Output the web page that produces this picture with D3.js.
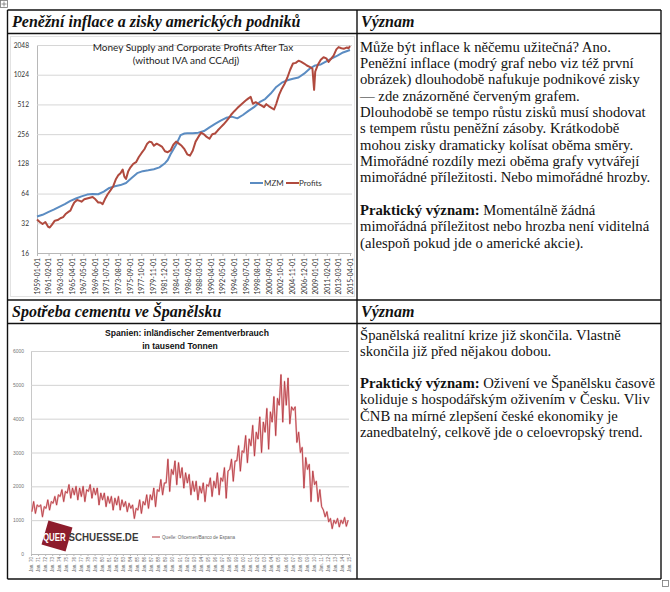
<!DOCTYPE html>
<html><head><meta charset="utf-8">
<script src="https://cdn.jsdelivr.net/npm/d3@7"></script>
<style>body{margin:0;background:#fff}svg{display:block}</style>
</head><body><svg id="c" width="670" height="592"></svg>
<script>
// ---------------- DATA ----------------
// Chart 1: MZM money supply (index, log2 axis)
const mzmYears = [1959,1960,1961,1962,1963,1964,1965,1966,1967,1968,1969,1970,1971,1972,1973,1974,1975,1976,1977,1978,1979,1980,1981,1982,1982.5,1983,1984,1984.8,1985.5,1986,1987,1988,1989,1990,1991,1992,1993,1994,1995,1996,1997,1998,1999,2000,2001,2002,2003,2004,2005,2006,2007,2008,2009,2010,2011,2012,2013,2014,2015.25];
const mzmValues = [37.5,39,41.5,44,47,50,54,57,60,62.5,63.5,63,67,73,76,78,82,92,103,108,110,113,118,130,140,160,200,250,260,262,262,265,275,300,325,350,375,385,370,400,440,480,540,580,660,770,850,900,930,960,1050,1180,1270,1300,1400,1500,1600,1720,1820];
// Chart 1: Corporate profits after tax
const profitYears = [1959,1959.5,1960,1960.5,1961,1961.3,1961.7,1962.2,1962.7,1963.2,1963.7,1964.2,1964.7,1965,1965.3,1965.7,1966.2,1966.7,1967,1967.5,1968,1968.5,1969,1969.5,1970,1970.4,1970.8,1971.2,1971.7,1972.2,1972.7,1973.2,1973.6,1974,1974.4,1974.7,1975,1975.4,1975.8,1976.3,1976.8,1977.3,1977.8,1978.3,1978.8,1979.2,1979.6,1980,1980.5,1981,1981.5,1982,1982.5,1983,1983.5,1984,1984.5,1985,1985.5,1986,1986.5,1987,1987.5,1988,1988.5,1989,1989.5,1990,1990.5,1991,1991.5,1992,1992.5,1993,1993.5,1994,1994.5,1995,1995.5,1996,1996.5,1997,1997.4,1997.8,1998.3,1998.8,1999.3,1999.8,2000.2,2000.7,2001.2,2001.6,2002,2002.5,2003,2003.5,2004,2004.5,2005,2005.5,2006,2006.5,2007,2007.5,2008,2008.5,2008.8,2009,2009.5,2010,2010.5,2011,2011.4,2011.9,2012.3,2012.8,2013.2,2013.7,2014.2,2014.7,2015,2015.25];
const profitValues = [35,33,31.5,33,29.5,29,31,34,34.5,36,37,40,42,43,47,52,55,54,53,56,57,58,59,56,52,52,50,56,63,69,76,90,98,103,112,95,90,108,118,128,133,150,165,180,205,215,212,195,205,198,190,172,168,175,200,215,205,195,180,160,155,175,215,240,265,255,240,230,255,260,280,300,320,345,375,410,440,470,500,530,560,590,610,520,540,520,500,480,515,490,470,455,520,640,740,830,960,1150,1330,1350,1420,1380,1330,1270,1230,1180,720,1100,1300,1450,1540,1500,1380,1500,1600,1850,1950,1900,1880,1930,1900,2000];
const chart1YTicks = [16,32,64,128,256,512,1024,2048];
const chart1XLabels = ["1959-01-01","1961-02-01","1963-03-01","1965-04-01","1967-05-01","1969-06-01","1971-07-01","1973-08-01","1975-09-01","1977-10-01","1979-11-01","1981-12-01","1984-01-01","1986-02-01","1988-03-01","1990-04-01","1992-05-01","1994-06-01","1996-07-01","1998-08-01","2000-09-01","2002-10-01","2004-11-01","2006-12-01","2009-01-01","2011-02-01","2013-03-01","2015-04-01"];
const chart1Series = ["MZM","Profits"];

// Chart 2: Spain cement consumption (thousand tonnes), 4 readings per year from 1970
const cementStartYear = 1970;
const cementValues = [
1250,1550,1200,1450, 1400,1450,1100,1400, 1350,1600,1300,1550, 1500,1700,1450,1750, 1700,1900,1550,1850,
1800,2050,1650,1950, 1750,2000,1600,1950, 1700,2000,1550,1900, 1850,2050,1650,1950, 1750,1950,1450,1800,
1600,1800,1400,1700, 1500,1700,1300,1650, 1450,1700,1300,1600, 1400,1550,1250,1500, 1350,1450,1050,1350,
1300,1600,1200,1550, 1450,1750,1350,1750, 1600,1950,1400,1900, 1850,2200,1750,2100, 2100,2800,1850,2500,
2350,2750,2050,2700, 2250,2550,1950,2400, 2100,2350,1750,2150, 1850,2150,1600,2000, 1800,2100,1550,2050,
2000,2250,1700,2150, 1950,2400,1750,2250, 2150,2550,1650,2450, 2500,2800,2150,2750, 2750,3200,2450,3050,
3000,3500,2700,3400, 3200,3800,2900,3600, 3400,4050,3000,3900, 3600,4300,3100,4200, 3900,4650,3500,4600,
4400,5300,3900,5100, 4400,5200,3850,4350, 4250,4350,3300,3600, 3000,3150,1950,2850, 2500,2650,1550,2450,
2050,2150,1550,1900, 1400,1300,1100,1250, 950,1050,750,1000, 900,1050,800,1000, 900,1080,820,1000];
const chart2YTicks = [0,1000,2000,3000,4000,5000,6000];
const chart2XLabels = ["70","71","72","73","74","75","76","77","78","79","80","81","82","83","84","85","86","87","88","89","90","91","92","93","94","95","96","97","98","99","00","01","02","03","04","05","06","07","08","09","10","11","12","13","14","15"];

// Text
const header1Left = "Peněžní inflace a zisky amerických podniků";
const header2Left = "Spotřeba cementu ve Španělsku";
const headerRight = "Význam";
const text1Lines = [
"Může být inflace k něčemu užitečná? Ano.",
"Peněžní inflace (modrý graf nebo viz též první",
"obrázek) dlouhodobě nafukuje podnikové zisky",
"— zde znázorněné červeným grafem.",
"Dlouhodobě se tempo růstu zisků musí shodovat",
"s tempem růstu peněžní zásoby. Krátkodobě",
"mohou zisky dramaticky kolísat oběma směry.",
"Mimořádné rozdíly mezi oběma grafy vytvářejí",
"mimořádné příležitosti. Nebo mimořádné hrozby.",
"",
"Praktický význam: Momentálně žádná",
"mimořádná příležitost nebo hrozba není viditelná",
"(alespoň pokud jde o americké akcie)."];
const text2Lines = [
"Španělská realitní krize již skončila. Vlastně",
"skončila již před nějakou dobou.",
"",
"Praktický význam: Oživení ve Španělsku časově",
"koliduje s hospodářským oživením v Česku. Vliv",
"ČNB na mírné zlepšení české ekonomiky je",
"zanedbatelný, celkově jde o celoevropský trend."];

// ---------------- DRAWING ----------------
const svg = d3.select("#c");
const serif = "'Liberation Serif','Times New Roman',serif";
const gill = "Lato, 'Open Sans', sans-serif";
const sans = "'Liberation Sans', Arial, sans-serif";
svg.append("rect").attr("width",670).attr("height",592).attr("fill","#fff");

// ---- Chart 1 ----
const c1 = svg.append("g");
c1.append("rect").attr("x",10.5).attr("y",36.5).attr("width",344).attr("height",260).attr("fill","#fff").attr("stroke","#e2e2e2");
const x1 = d3.scaleLinear().domain([1959, 2015.25]).range([37, 350]);
const y1 = d3.scaleLog().base(2).domain([16, 2048]).range([253, 45]);
const dateNum = s => { const p = s.split("-"); return +p[0] + (+p[1]-1)/12; };

const ya1 = c1.append("g").attr("transform","translate(37,0)")
  .call(d3.axisLeft(y1).tickValues(chart1YTicks).tickFormat(d3.format("d")).tickSizeInner(-315).tickSizeOuter(0).tickPadding(8));
ya1.select(".domain").attr("stroke","#b8b8b8");
ya1.selectAll(".tick line").attr("stroke","#d6d6d6");
ya1.selectAll(".tick text").attr("font-family",gill).attr("font-size",6.6).attr("fill","#333");

const xa1 = c1.append("g").attr("transform","translate(0,253)")
  .call(d3.axisBottom(x1).tickValues(chart1XLabels.map(dateNum)).tickFormat((d,i)=>chart1XLabels[i]).tickSizeInner(3).tickSizeOuter(0));
xa1.select(".domain").attr("stroke","#b8b8b8");
xa1.selectAll(".tick line").attr("stroke","#b8b8b8");
xa1.selectAll(".tick text").attr("transform","rotate(-90)").attr("text-anchor","end")
  .attr("x",-5).attr("y",0).attr("dy","0.35em")
  .attr("font-family",gill).attr("font-size",6.8).attr("fill","#333");

const line1 = d3.line().x(d=>x1(d[0])).y(d=>y1(d[1]));
const colors1 = ["#5b8cc2","#b04a3e"];
c1.append("path").datum(d3.zip(mzmYears,mzmValues)).attr("d",line1).attr("fill","none").attr("stroke",colors1[0]).attr("stroke-width",2).attr("stroke-linejoin","round");
c1.append("path").datum(d3.zip(profitYears,profitValues)).attr("d",line1).attr("fill","none").attr("stroke",colors1[1]).attr("stroke-width",2).attr("stroke-linejoin","round");

c1.append("text").attr("x",193).attr("y",51).attr("text-anchor","middle").attr("font-family",gill).attr("font-size",10).attr("fill","#222").text("Money Supply and Corporate Profits After Tax");
c1.append("text").attr("x",186).attr("y",64).attr("text-anchor","middle").attr("font-family",gill).attr("font-size",10).attr("fill","#222").text("(without IVA and CCAdj)");

// legend
const leg1 = [{x:250,tx:264},{x:286,tx:299}];
chart1Series.forEach((s,i)=>{
  c1.append("line").attr("x1",leg1[i].x).attr("x2",leg1[i].x+13).attr("y1",183).attr("y2",183).attr("stroke",colors1[i]).attr("stroke-width",2);
  c1.append("text").attr("x",leg1[i].tx).attr("y",186).attr("font-family",gill).attr("font-size",8).attr("fill","#333").text(s);
});

// ---- Chart 2 ----
const c2 = svg.append("g");
const x2 = d3.scaleLinear().domain([1970, 2015]).range([31, 349]);
const y2 = d3.scaleLinear().domain([0, 6000]).range([554, 351]);
const ya2 = c2.append("g").attr("transform","translate(31,0)")
  .call(d3.axisLeft(y2).tickValues(chart2YTicks).tickFormat(d3.format("d")).tickSizeInner(-318).tickSizeOuter(0).tickPadding(7));
ya2.select(".domain").attr("stroke","#c8c8c8");
ya2.selectAll(".tick line").attr("stroke","#d2d2d2");
ya2.selectAll(".tick text").attr("font-family",sans).attr("font-size",5).attr("fill","#777");
const xa2 = c2.append("g").attr("transform","translate(0,554)")
  .call(d3.axisBottom(x2).tickValues(chart2XLabels.map((d,i)=>1970+i)).tickFormat((d,i)=>"Jan. "+chart2XLabels[i]).tickSizeInner(2).tickSizeOuter(0));
xa2.select(".domain").attr("stroke","#b8b8b8");
xa2.selectAll(".tick line").attr("stroke","#b8b8b8");
xa2.selectAll(".tick text").attr("transform","rotate(-90)").attr("text-anchor","end")
  .attr("x",-3).attr("y",0).attr("dy","0.35em")
  .attr("font-family",sans).attr("font-size",4.6).attr("fill","#666");

const cementData = cementValues.map((v,i)=>[cementStartYear + i/4 + 0.125, v]);
const line2 = d3.line().x(d=>x2(d[0])).y(d=>y2(d[1]));
c2.append("path").datum(cementData).attr("d",line2).attr("fill","none").attr("stroke","#ecb4b6").attr("stroke-width",1.8).attr("stroke-linejoin","round");
c2.append("path").datum(cementData).attr("d",line2).attr("fill","none").attr("stroke","#b3343c").attr("stroke-width",0.8).attr("stroke-linejoin","round");

c2.append("text").attr("x",187).attr("y",336).attr("text-anchor","middle").attr("font-family",sans).attr("font-weight","bold").attr("font-size",8.6).attr("fill","#111").text("Spanien: inländischer Zementverbrauch");
c2.append("text").attr("x",180).attr("y",349).attr("text-anchor","middle").attr("font-family",sans).attr("font-weight","bold").attr("font-size",8.6).attr("fill","#111").text("in tausend Tonnen");

// logo
c2.append("rect").attr("x",-12.5).attr("y",-12.5).attr("width",25).attr("height",25).attr("fill","#8d1c2c")
  .attr("transform","translate(57,536) rotate(16)");
c2.append("text").attr("transform","translate(43,541) scale(0.75,1)").attr("font-family",sans).attr("font-weight","bold").attr("font-size",10.5).attr("fill","#fff").text("QUER");
c2.append("text").attr("transform","translate(68.5,541) scale(0.93,1)").attr("font-family",sans).attr("font-weight","bold").attr("font-size",10.5).attr("fill","#3a3a3a").text("SCHUESSE.DE");
// legend
c2.append("line").attr("x1",152).attr("x2",160).attr("y1",537).attr("y2",537).attr("stroke","#b3343c").attr("stroke-width",1);
c2.append("text").attr("x",162).attr("y",538.6).attr("font-family",sans).attr("font-size",4.6).attr("fill","#666").text("Quelle: Oficemen/Banco de Espana");

// ---- Table text ----
function header(txt, x, y) {
  svg.append("text").attr("x",x).attr("y",y).attr("font-family",serif).attr("font-weight","bold").attr("font-style","italic").attr("font-size",16).attr("fill","#111").text(txt);
}
header(header1Left, 12, 27);
header(headerRight, 361, 27);
header(header2Left, 12, 317);
header(headerRight, 361, 317);

function para(lines, x, y0, lh) {
  const b = "Praktický význam:";
  lines.forEach((ln,i)=>{
    if (!ln) return;
    const t = svg.append("text").attr("x",x).attr("y",y0+i*lh).attr("font-family",serif).attr("font-size",14.7).attr("fill","#111");
    if (ln.startsWith(b)) { t.append("tspan").attr("font-weight","bold").text(b); t.append("tspan").text(ln.slice(b.length)); }
    else t.text(ln);
  });
}
para(text1Lines, 360, 51.5, 16.35);
para(text2Lines, 360, 339.5, 16.2);

// ---- Table borders ----
const tb = svg.append("g").attr("stroke","#111").attr("stroke-width",1.4);
[[7.5,10,661,10],[7.5,33.5,661,33.5],[7.5,300,661,300],[7.5,323.5,661,323.5],[7.5,579,661,579],
 [7.5,10,7.5,579],[357,10,357,579],[661,10,661,579]].forEach(l=>{
  tb.append("line").attr("x1",l[0]).attr("y1",l[1]).attr("x2",l[2]).attr("y2",l[3]);
});
// handles
const h = svg.append("g").attr("stroke","#777").attr("fill","none").attr("stroke-width",0.8);
h.append("rect").attr("x",0.5).attr("y",0.5).attr("width",7).attr("height",7).attr("fill","#fff");
h.append("path").attr("d","M4,1.5V6.5M1.5,4H6.5");
h.append("rect").attr("x",662.5).attr("y",580.5).attr("width",6).attr("height",6).attr("fill","#fff");
</script></body></html>
